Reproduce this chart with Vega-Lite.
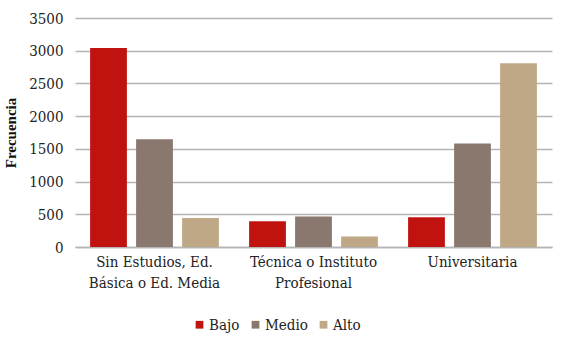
{
  "$schema": "https://vega.github.io/schema/vega-lite/v6.json",
  "autosize": {"type": "none"},
  "width": 477,
  "height": 229,
  "padding": {"left": 75, "top": 18, "right": 18, "bottom": 104},
  "background": "white",
  "data": {
    "values": [
      {"nivel": "Sin Estudios, Ed. Básica o Ed. Media", "grupo": "Bajo", "frecuencia": 3040},
      {"nivel": "Sin Estudios, Ed. Básica o Ed. Media", "grupo": "Medio", "frecuencia": 1645},
      {"nivel": "Sin Estudios, Ed. Básica o Ed. Media", "grupo": "Alto", "frecuencia": 445},
      {"nivel": "Técnica o Instituto Profesional", "grupo": "Bajo", "frecuencia": 395},
      {"nivel": "Técnica o Instituto Profesional", "grupo": "Medio", "frecuencia": 465},
      {"nivel": "Técnica o Instituto Profesional", "grupo": "Alto", "frecuencia": 162},
      {"nivel": "Universitaria", "grupo": "Bajo", "frecuencia": 455},
      {"nivel": "Universitaria", "grupo": "Medio", "frecuencia": 1580},
      {"nivel": "Universitaria", "grupo": "Alto", "frecuencia": 2810}
    ]
  },
  "mark": {"type": "bar"},
  "encoding": {
    "x": {
      "field": "nivel",
      "type": "nominal",
      "sort": null,
      "scale": {"paddingInner": 0.19, "paddingOuter": 0.095},
      "axis": {
        "title": null,
        "labelAngle": 0,
        "ticks": false,
        "domainColor": "#b5b5b5",
        "domainWidth": 1.5,
        "labelFont": "DejaVu Serif Condensed",
        "labelFontSize": 15,
        "labelColor": "#222",
        "labelPadding": 7,
        "labelLineHeight": 21,
        "labelLimit": 200,
        "labelExpr": "datum.value == 'Sin Estudios, Ed. Básica o Ed. Media' ? ['Sin Estudios, Ed.', 'Básica o Ed. Media'] : datum.value == 'Técnica o Instituto Profesional' ? ['Técnica o Instituto', 'Profesional'] : datum.value"
      }
    },
    "xOffset": {
      "field": "grupo",
      "type": "nominal",
      "sort": ["Bajo", "Medio", "Alto"],
      "scale": {"paddingInner": 0.2}
    },
    "y": {
      "field": "frecuencia",
      "type": "quantitative",
      "scale": {"domain": [0, 3500]},
      "axis": {
        "title": "Frecuencia",
        "titleFont": "Liberation Serif",
        "titleFontSize": 15,
        "titleFontWeight": "bold",
        "titleColor": "#111",
        "titlePadding": 10,
        "format": "d",
        "values": [0, 500, 1000, 1500, 2000, 2500, 3000, 3500],
        "domain": false,
        "ticks": false,
        "labelPadding": 12,
        "labelFont": "DejaVu Serif Condensed",
        "labelFontSize": 15,
        "labelColor": "#222",
        "gridColor": "#b5b5b5",
        "gridWidth": 1.5
      }
    },
    "color": {
      "field": "grupo",
      "type": "nominal",
      "sort": ["Bajo", "Medio", "Alto"],
      "scale": {"domain": ["Bajo", "Medio", "Alto"], "range": ["#c0130f", "#8a786e", "#bea886"]},
      "legend": {
        "title": null,
        "orient": "none",
        "legendX": 117,
        "legendY": 299,
        "direction": "horizontal",
        "symbolType": "square",
        "symbolSize": 60,
        "symbolStrokeWidth": 0,
        "labelFont": "DejaVu Serif Condensed",
        "labelFontSize": 15,
        "labelColor": "#222",
        "labelOffset": 2,
        "columnPadding": 8
      }
    }
  },
  "config": {"view": {"stroke": null}}
}
